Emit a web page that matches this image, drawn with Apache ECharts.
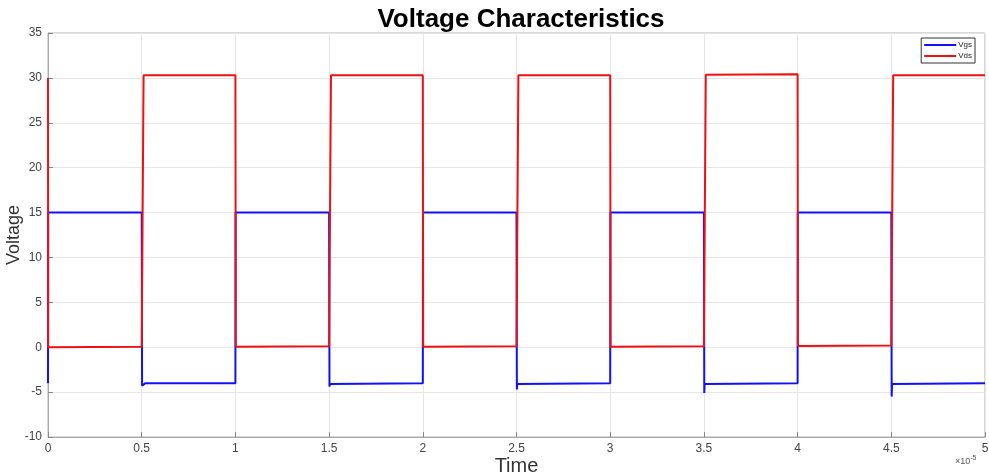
<!DOCTYPE html>
<html>
<head>
<meta charset="utf-8">
<script src="https://cdn.jsdelivr.net/npm/echarts@6/dist/echarts.min.js"></script>
<style>html,body{margin:0;padding:0;background:#fff;}#c{width:989px;height:474px;}</style>
</head>
<body>
<div id="c"></div>
<script>
// Time in units of 1e-5 s
const vgsTime  = [0, 0.001, 0.5, 0.502, 0.504, 0.52, 1.0, 1.001, 1.5, 1.502, 1.504, 1.51, 2.0, 2.001, 2.5, 2.502, 2.504, 2.51, 3.0, 3.001, 3.5, 3.502, 3.504, 3.51, 4.0, 4.001, 4.5, 4.502, 4.504, 4.51, 5.0];
const vgsValue = [-4, 15, 15, -4.3, -4.2, -4.0, -4, 15, 15, -4.4, -4.1, -4.0, -4, 15, 15, -4.7, -4.1, -4.0, -4, 15, 15, -5.1, -4.1, -4.0, -4, 15, 15, -5.5, -4.1, -4.0, -4];
const vdsTime  = [0, 0.001, 0.5, 0.51, 1.0, 1.002, 1.5, 1.51, 2.0, 2.002, 2.5, 2.51, 3.0, 3.002, 3.5, 3.51, 4.0, 4.002, 4.5, 4.51, 5.0];
const vdsValue = [30.0, 0, 0.05, 30.3, 30.3, 0.05, 0.1, 30.3, 30.3, 0.05, 0.1, 30.3, 30.3, 0.05, 0.1, 30.35, 30.4, 0.15, 0.2, 30.3, 30.3];
const seriesNames = ['Vgs', 'Vds'];
const seriesColors = ['#1010ff', '#ee1111'];

const zip = (t, v) => t.map((x, i) => [x, v[i]]);
const chart = echarts.init(document.getElementById('c'));
chart.setOption({
  animation: false,
  backgroundColor: '#fff',
  title: {
    text: 'Voltage Characteristics',
    left: 516, top: 2, textAlign: 'center',
    textStyle: {fontFamily: 'Liberation Sans', fontWeight: 'bold', fontSize: 26, color: '#000'}
  },
  legend: {
    orient: 'vertical', right: 14, top: 38,
    data: seriesNames,
    icon: 'rect', itemWidth: 32, itemHeight: 2, itemGap: 3,
    borderColor: '#333', borderWidth: 1, borderRadius: 0,
    padding: [3, 3, 3, 3], backgroundColor: '#fff',
    textStyle: {fontFamily: 'Liberation Sans', fontSize: 8, color: '#222', padding: [0, 0, 0, -3]}
  },
  grid: {left: 48, right: 4, top: 33, bottom: 37, show: true, borderColor: '#b0b0b0', borderWidth: 1,
         containLabel: false, outerBoundsMode: 'none'},
  xAxis: {
    type: 'value', min: 0, max: 5, interval: 0.5,
    name: 'Time', nameLocation: 'middle', nameGap: 19, nameMoveOverlap: false,
    nameTextStyle: {fontFamily: 'Liberation Sans', fontSize: 20, color: '#333'},
    axisLine: {show: true, onZero: false, lineStyle: {color: '#aaa'}},
    axisTick: {show: true, inside: true, length: 5, lineStyle: {color: '#888'}},
    axisLabel: {fontFamily: 'Liberation Sans', fontSize: 12, color: '#444', margin: 6},
    splitLine: {show: true, lineStyle: {color: '#e6e6e6', width: 1}}
  },
  yAxis: {
    type: 'value', min: -10, max: 35, interval: 5,
    name: 'Voltage', nameLocation: 'middle', nameGap: 25, nameMoveOverlap: false,
    nameTextStyle: {fontFamily: 'Liberation Sans', fontSize: 18, color: '#333'},
    axisLine: {show: true, onZero: false, lineStyle: {color: '#aaa'}},
    axisTick: {show: true, inside: true, length: 5, lineStyle: {color: '#888'}},
    axisLabel: {fontFamily: 'Liberation Sans', fontSize: 12, color: '#444', margin: 6},
    splitLine: {show: true, lineStyle: {color: '#e6e6e6', width: 1}}
  },
  graphic: [{
    type: 'text', left: 955, top: 455,
    style: {
      text: '{a|×10}{b|-5}',
      rich: {
        a: {fontFamily: 'Liberation Sans', fontSize: 9, fill: '#555'},
        b: {fontFamily: 'Liberation Sans', fontSize: 7, fill: '#555', verticalAlign: 'top', padding: [0, 0, 6, 0]}
      }
    }
  }],
  series: [
    {name: seriesNames[0], type: 'line', data: zip(vgsTime, vgsValue), showSymbol: false, symbol: 'none',
     lineStyle: {color: seriesColors[0], width: 2}, itemStyle: {color: seriesColors[0]}},
    {name: seriesNames[1], type: 'line', data: zip(vdsTime, vdsValue), showSymbol: false, symbol: 'none',
     lineStyle: {color: seriesColors[1], width: 2}, itemStyle: {color: seriesColors[1]}}
  ]
});
</script>
</body>
</html>
